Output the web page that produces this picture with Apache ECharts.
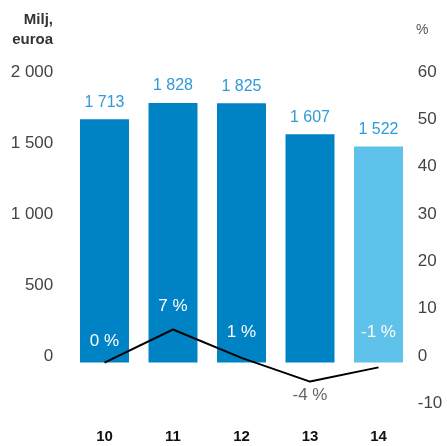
<!DOCTYPE html>
<html><head><meta charset="utf-8">
<script src="https://cdn.jsdelivr.net/npm/echarts@6/dist/echarts.min.js"></script>
<style>html,body{margin:0;padding:0;background:#fff}#c{width:447px;height:446px}</style>
</head><body><div id="c"></div>
<script>
var categories = ['10', '11', '12', '13', '14'];
var revenue = [1713, 1828, 1825, 1607, 1522];
var changePct = [0, 7, 1, -4, -1];
var leftTicks = [0, 500, 1000, 1500, 2000];
var rightTicks = [-10, 0, 10, 20, 30, 40, 50, 60];

// styling (not data)
var barColors = ['#0083c5', '#0083c5', '#0083c5', '#0083c5', '#5ec2ea'];
var pctLabelDy = [-21, -23, -26, 14, -35];
var pctLabelColor = ['#fff', '#fff', '#fff', '#666', '#fff'];

function fmt(v) { return String(v).replace(/\B(?=(\d{3})+(?!\d))/g, ' '); }

var FONT = '"Liberation Sans", Arial, sans-serif';
var chart = echarts.init(document.getElementById('c'));
chart.setOption({
  animation: false,
  textStyle: { fontFamily: FONT },
  grid: [
    { left: 70.25, right: 34.25, top: 78.5, height: 284 },
    { left: 70.25, right: 34.25, top: 78.5, height: 331.5 }
  ],
  xAxis: [
    { type: 'category', gridIndex: 0, data: categories, axisLine: { show: false }, axisTick: { show: false }, axisLabel: { show: false } },
    { type: 'category', gridIndex: 1, data: categories, axisLine: { show: false }, axisTick: { show: false },
      axisLabel: { margin: 19, color: '#111', fontWeight: 'bold', fontSize: 15, fontFamily: FONT } }
  ],
  yAxis: [
    { type: 'value', gridIndex: 0, min: leftTicks[0], max: leftTicks[leftTicks.length - 1], interval: 500,
      axisLine: { show: false }, axisTick: { show: false }, splitLine: { show: false },
      axisLabel: { margin: 17, color: '#444', fontSize: 17, fontFamily: FONT, verticalAlign: 'bottom', lineHeight: 13,
        formatter: function (v) { return fmt(v); } } },
    { type: 'value', gridIndex: 1, position: 'right', min: rightTicks[0], max: rightTicks[rightTicks.length - 1], interval: 10,
      axisLine: { show: false }, axisTick: { show: false }, splitLine: { show: false },
      axisLabel: { margin: 5, color: '#444', fontSize: 17, fontFamily: FONT, verticalAlign: 'bottom', lineHeight: 13 } }
  ],
  series: [
    { type: 'bar', xAxisIndex: 0, yAxisIndex: 0, barCategoryGap: '28.5%',
      data: revenue.map(function (v, i) { return { value: v, itemStyle: { color: barColors[i] } }; }),
      label: { show: true, position: 'top', distance: 9, color: '#2f9ad8', fontSize: 16, fontFamily: FONT,
        formatter: function (p) { return fmt(p.value); } } },
    { type: 'line', xAxisIndex: 1, yAxisIndex: 1, symbol: 'circle', symbolSize: 0.1, showSymbol: true,
      lineStyle: { color: '#000', width: 2 }, itemStyle: { color: 'rgba(0,0,0,0)' },
      data: changePct.map(function (v, i) {
        return { value: v, label: { show: true, position: 'inside', offset: [0, pctLabelDy[i]], color: pctLabelColor[i],
          fontSize: 17, fontFamily: FONT, formatter: function (p) { return p.value + ' %'; } } };
      }) }
  ],
  graphic: [
    { type: 'text', x: 53, y: 20, style: { text: 'Milj,', align: 'right', verticalAlign: 'middle', fill: '#333', font: 'bold 15px ' + FONT } },
    { type: 'text', x: 53, y: 40, style: { text: 'euroa', align: 'right', verticalAlign: 'middle', fill: '#333', font: 'bold 15px ' + FONT } },
    { type: 'text', x: 416, y: 30, style: { text: '%', verticalAlign: 'middle', fill: '#555', font: '14px ' + FONT } }
  ]
});
</script></body></html>
